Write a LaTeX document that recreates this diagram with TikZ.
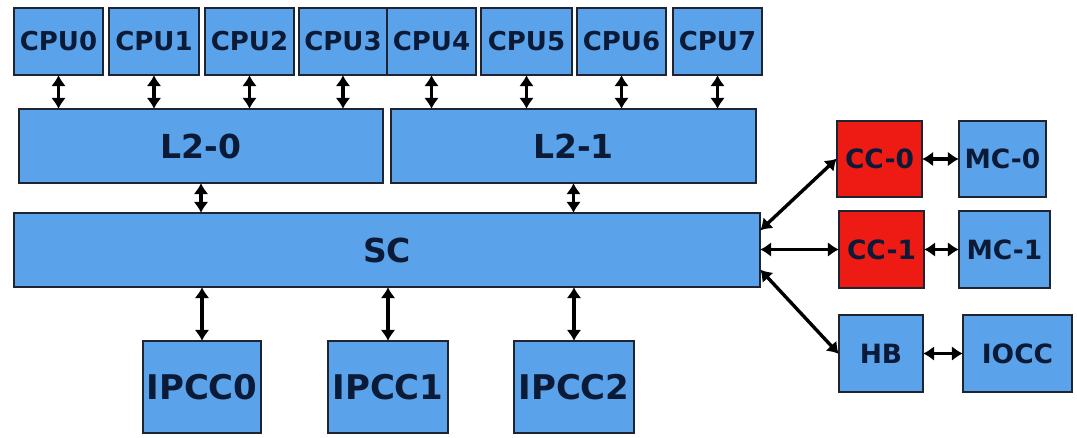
\documentclass[tikz,border=0pt]{standalone}
\usepackage{fontspec}
\setmainfont{DejaVu Sans}
\usetikzlibrary{arrows.meta}
\definecolor{boxblue}{HTML}{5AA3EA}
\definecolor{boxred}{HTML}{EE1A14}
\definecolor{txtnavy}{HTML}{0B1A36}
\definecolor{edge}{HTML}{1E2530}
\tikzset{
  blk/.style={draw=edge, line width=1.3pt, fill=boxblue, inner sep=0pt, text=txtnavy, font=\bfseries},
  redblk/.style={blk, fill=boxred},
  fs25/.style={font=\fontsize{26}{26}\selectfont\bfseries},
  fs26/.style={font=\fontsize{26.5}{26.5}\selectfont\bfseries},
  fs32/.style={font=\fontsize{33}{33}\selectfont\bfseries},
  fs34/.style={font=\fontsize{34}{34}\selectfont\bfseries},
  tip/.tip={Latex[length=11pt,width=15pt]},
  link/.style={line width=3.4pt, tip-tip, shorten <=-0.5pt, shorten >=-0.5pt}
}
\begin{document}
\begin{tikzpicture}[x=1pt,y=-1pt]
\useasboundingbox[fill=white] (0,0) rectangle (1077,437);
% CPUs
\node[blk,fs25,minimum width=89pt,minimum height=67pt] (cpu0) at (58.5,41.5) {CPU0};
\node[blk,fs25,minimum width=90pt,minimum height=67pt] (cpu1) at (154,41.5) {CPU1};
\node[blk,fs25,minimum width=89pt,minimum height=67pt] (cpu2) at (249.5,41.5) {CPU2};
\node[blk,fs25,minimum width=88pt,minimum height=67pt] (cpu3) at (343,41.5) {CPU3};
\node[blk,fs25,minimum width=89pt,minimum height=67pt] (cpu4) at (431.5,41.5) {CPU4};
\node[blk,fs25,minimum width=91pt,minimum height=67pt] (cpu5) at (526.5,41.5) {CPU5};
\node[blk,fs25,minimum width=89pt,minimum height=67pt] (cpu6) at (621.5,41.5) {CPU6};
\node[blk,fs25,minimum width=89pt,minimum height=67pt] (cpu7) at (717.5,41.5) {CPU7};
% L2
\node[blk,fs32,minimum width=364pt,minimum height=74pt] (l20) at (201,146) {L2-0};
\node[blk,fs32,minimum width=365pt,minimum height=74pt] (l21) at (573.5,146) {L2-1};
% SC
\node[blk,fs32,minimum width=746pt,minimum height=74pt] (sc) at (387,250) {SC};
% IPCC
\node[blk,fs34,minimum width=118pt,minimum height=92pt] (ipcc0) at (202,387) {IPCC0};
\node[blk,fs34,minimum width=120pt,minimum height=92pt] (ipcc1) at (388,387) {IPCC1};
\node[blk,fs34,minimum width=120pt,minimum height=92pt] (ipcc2) at (574,387) {IPCC2};
% right side
\node[redblk,fs26,minimum width=85pt,minimum height=76pt] (cc0) at (879.5,159) {CC-0};
\node[blk,fs26,minimum width=87pt,minimum height=76pt] (mc0) at (1002.5,159) {MC-0};
\node[redblk,fs26,minimum width=85pt,minimum height=77pt] (cc1) at (881.5,249.5) {CC-1};
\node[blk,fs26,minimum width=91pt,minimum height=77pt] (mc1) at (1004.5,249.5) {MC-1};
\node[blk,fs26,minimum width=84pt,minimum height=77pt] (hb) at (881,353.5) {HB};
\node[blk,fs26,minimum width=109pt,minimum height=77pt] (iocc) at (1017.5,353.5) {IOCC};
% CPU - L2 links
\foreach \c in {cpu0,cpu1,cpu2,cpu3} \draw[link] (\c.south) -- (\c.south |- l20.north);
\foreach \c in {cpu4,cpu5,cpu6,cpu7} \draw[link] (\c.south) -- (\c.south |- l21.north);
% L2 - SC
\draw[link] (l20.south) -- (l20.south |- sc.north);
\draw[link] (l21.south) -- (l21.south |- sc.north);
% SC - IPCC
\foreach \c in {ipcc0,ipcc1,ipcc2} \draw[link] (\c.north |- sc.south) -- (\c.north);
% SC - right side
\draw[link] ([yshift=20pt]sc.east) -- (cc0.west);
\draw[link] (sc.east |- cc1.west) -- (cc1.west);
\draw[link] ([yshift=-20pt]sc.east) -- (hb.west);
\draw[link] (cc0.east) -- (mc0.west);
\draw[link] (cc1.east) -- (mc1.west);
\draw[link] (hb.east) -- (iocc.west);
\end{tikzpicture}
\end{document}
